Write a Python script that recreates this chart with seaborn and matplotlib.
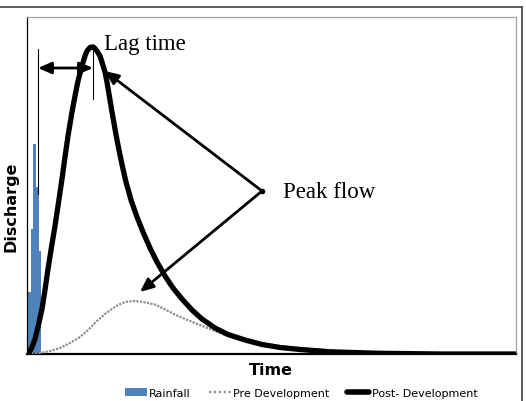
import matplotlib
matplotlib.use("Agg")
import matplotlib.pyplot as plt
import seaborn as sns
import pandas as pd
from matplotlib.lines import Line2D
from matplotlib.patches import Patch

# ---- data (time units, discharge units) ----
post_time = [1, 3, 5, 8, 11, 15, 18, 21, 25, 28, 31, 35, 38, 41, 45, 48, 51, 55, 58, 60,
             63, 65, 67, 70, 73, 75, 78, 80, 83, 85, 88, 90, 93, 96, 99, 104, 110, 116, 123, 130,
             138, 146, 155, 165, 175, 188, 201, 218, 235, 253, 273, 303, 353, 413, 489]
post_q = [0, 3, 7, 15, 27, 45, 64, 85, 110, 128, 148, 175, 197, 218, 242, 258, 273, 288, 298, 303,
          306.5, 307, 306.5, 303, 298, 292, 282, 272, 254, 242, 225, 214, 199, 185, 172, 154, 137, 122, 106, 92,
          78, 66, 55, 44, 35, 26, 19.5, 14, 9.5, 6.5, 4.5, 2.2, 0.7, 0, 0]

pre_time = [1, 8, 13, 18, 23, 28, 33, 38, 43, 48, 53, 59, 65, 71, 78, 85, 91, 98, 106, 113,
            121, 128, 135, 143, 151, 163, 178, 188, 201, 218, 233, 253, 273, 298, 323, 348, 373, 423, 489]
pre_q = [0, 0.3, 1, 2, 3, 4.5, 6, 8.5, 11, 14, 17, 22, 28, 34, 40, 45, 49, 52, 53, 52.5,
         51, 49.5, 46, 42, 38, 33, 27, 23, 18, 14, 11, 8, 6, 4, 2.5, 1.5, 1, 0, 0]

rain_time = [2.3, 5.0, 7.7, 10.3, 13.0]
rain_q = [62, 125, 210, 167, 103]

legend_labels = ["Rainfall", "Pre Development", "Post- Development"]

sns.set_style("white")
plt.rcParams["text.color"] = "black"

fig = plt.figure(figsize=(5.26, 4.02), dpi=100)
ax = fig.add_axes([27/526, 1 - 355/402, (516-27)/526, (355-18)/402])

ax.bar(rain_time, rain_q, width=2.6, color="#4F81BD", linewidth=0, zorder=2)

pre_df = pd.DataFrame({"t": pre_time, "q": pre_q})
post_df = pd.DataFrame({"t": post_time, "q": post_q})
sns.lineplot(data=pre_df, x="t", y="q", ax=ax, color="#8c8c8c", lw=1.6,
             linestyle=(0, (1, 0.6)), zorder=3)
sns.lineplot(data=post_df, x="t", y="q", ax=ax, color="black", lw=3.8, zorder=4,
             solid_joinstyle="round", solid_capstyle="round")

ax.set_xlim(0, 489)
ax.set_ylim(0, 337)
ax.set_xticks([])
ax.set_yticks([])
ax.set_xlabel("")
ax.set_ylabel("")

for s in ["top", "right"]:
    ax.spines[s].set_color("#a6a6a6")
    ax.spines[s].set_linewidth(0.9)
ax.spines["left"].set_color("black")
ax.spines["left"].set_linewidth(0.9)
ax.spines["bottom"].set_color("black")
ax.spines["bottom"].set_linewidth(1.6)

# lag time markers
ax.plot([11, 11], [160, 305], color="black", lw=0.8, zorder=5)
ax.plot([66, 66], [255, 310], color="black", lw=0.8, zorder=5)
ax.annotate("", xy=(11, 286), xytext=(66, 286),
            arrowprops=dict(arrowstyle="<|-|>,head_length=0.8,head_width=0.35",
                            color="black", lw=2.0, shrinkA=0, shrinkB=0), zorder=6)
ax.text(77, 305, "Lag time", family="Liberation Serif", fontsize=16.5, va="baseline")

# peak flow arrows
ax.plot([235], [163], "o", color="black", ms=3, zorder=6)
for tip in [(78, 283), (113, 62)]:
    ax.annotate("", xy=tip, xytext=(235, 163),
                arrowprops=dict(arrowstyle="-|>,head_length=0.8,head_width=0.35",
                                color="black", lw=2.0, shrinkA=0, shrinkB=0), zorder=6)
ax.text(256, 157, "Peak flow", family="Liberation Serif", fontsize=16.5, va="baseline")

fig.text(271/526, 1 - 371/402, "Time", ha="center", va="center",
         fontsize=11.5, fontweight="bold", family="DejaVu Sans")
fig.text(11/526, 1 - 207/402, "Discharge", ha="center", va="center", rotation=90,
         fontsize=11.5, fontweight="bold", family="DejaVu Sans")

handles = [Patch(facecolor="#4F81BD", edgecolor="none"),
           Line2D([], [], color="#8c8c8c", lw=1.6, linestyle=(0, (1, 1.2))),
           Line2D([], [], color="black", lw=4)]
fig.legend(handles, legend_labels, loc="center", bbox_to_anchor=(301/526, 1 - 394/402),
           ncol=3, frameon=False, fontsize=8, handlelength=2.0, handleheight=0.75,
           handletextpad=0.2, columnspacing=1.6, borderpad=0)

# outer frame
fig.add_artist(Line2D([0, 522/526], [1 - 8/402, 1 - 8/402], transform=fig.transFigure,
                      color="#404040", lw=1.2))
fig.add_artist(Line2D([522/526, 522/526], [1 - 8/402, 0], transform=fig.transFigure,
                      color="#404040", lw=1.2))

fig.savefig("out.png", dpi=100)
